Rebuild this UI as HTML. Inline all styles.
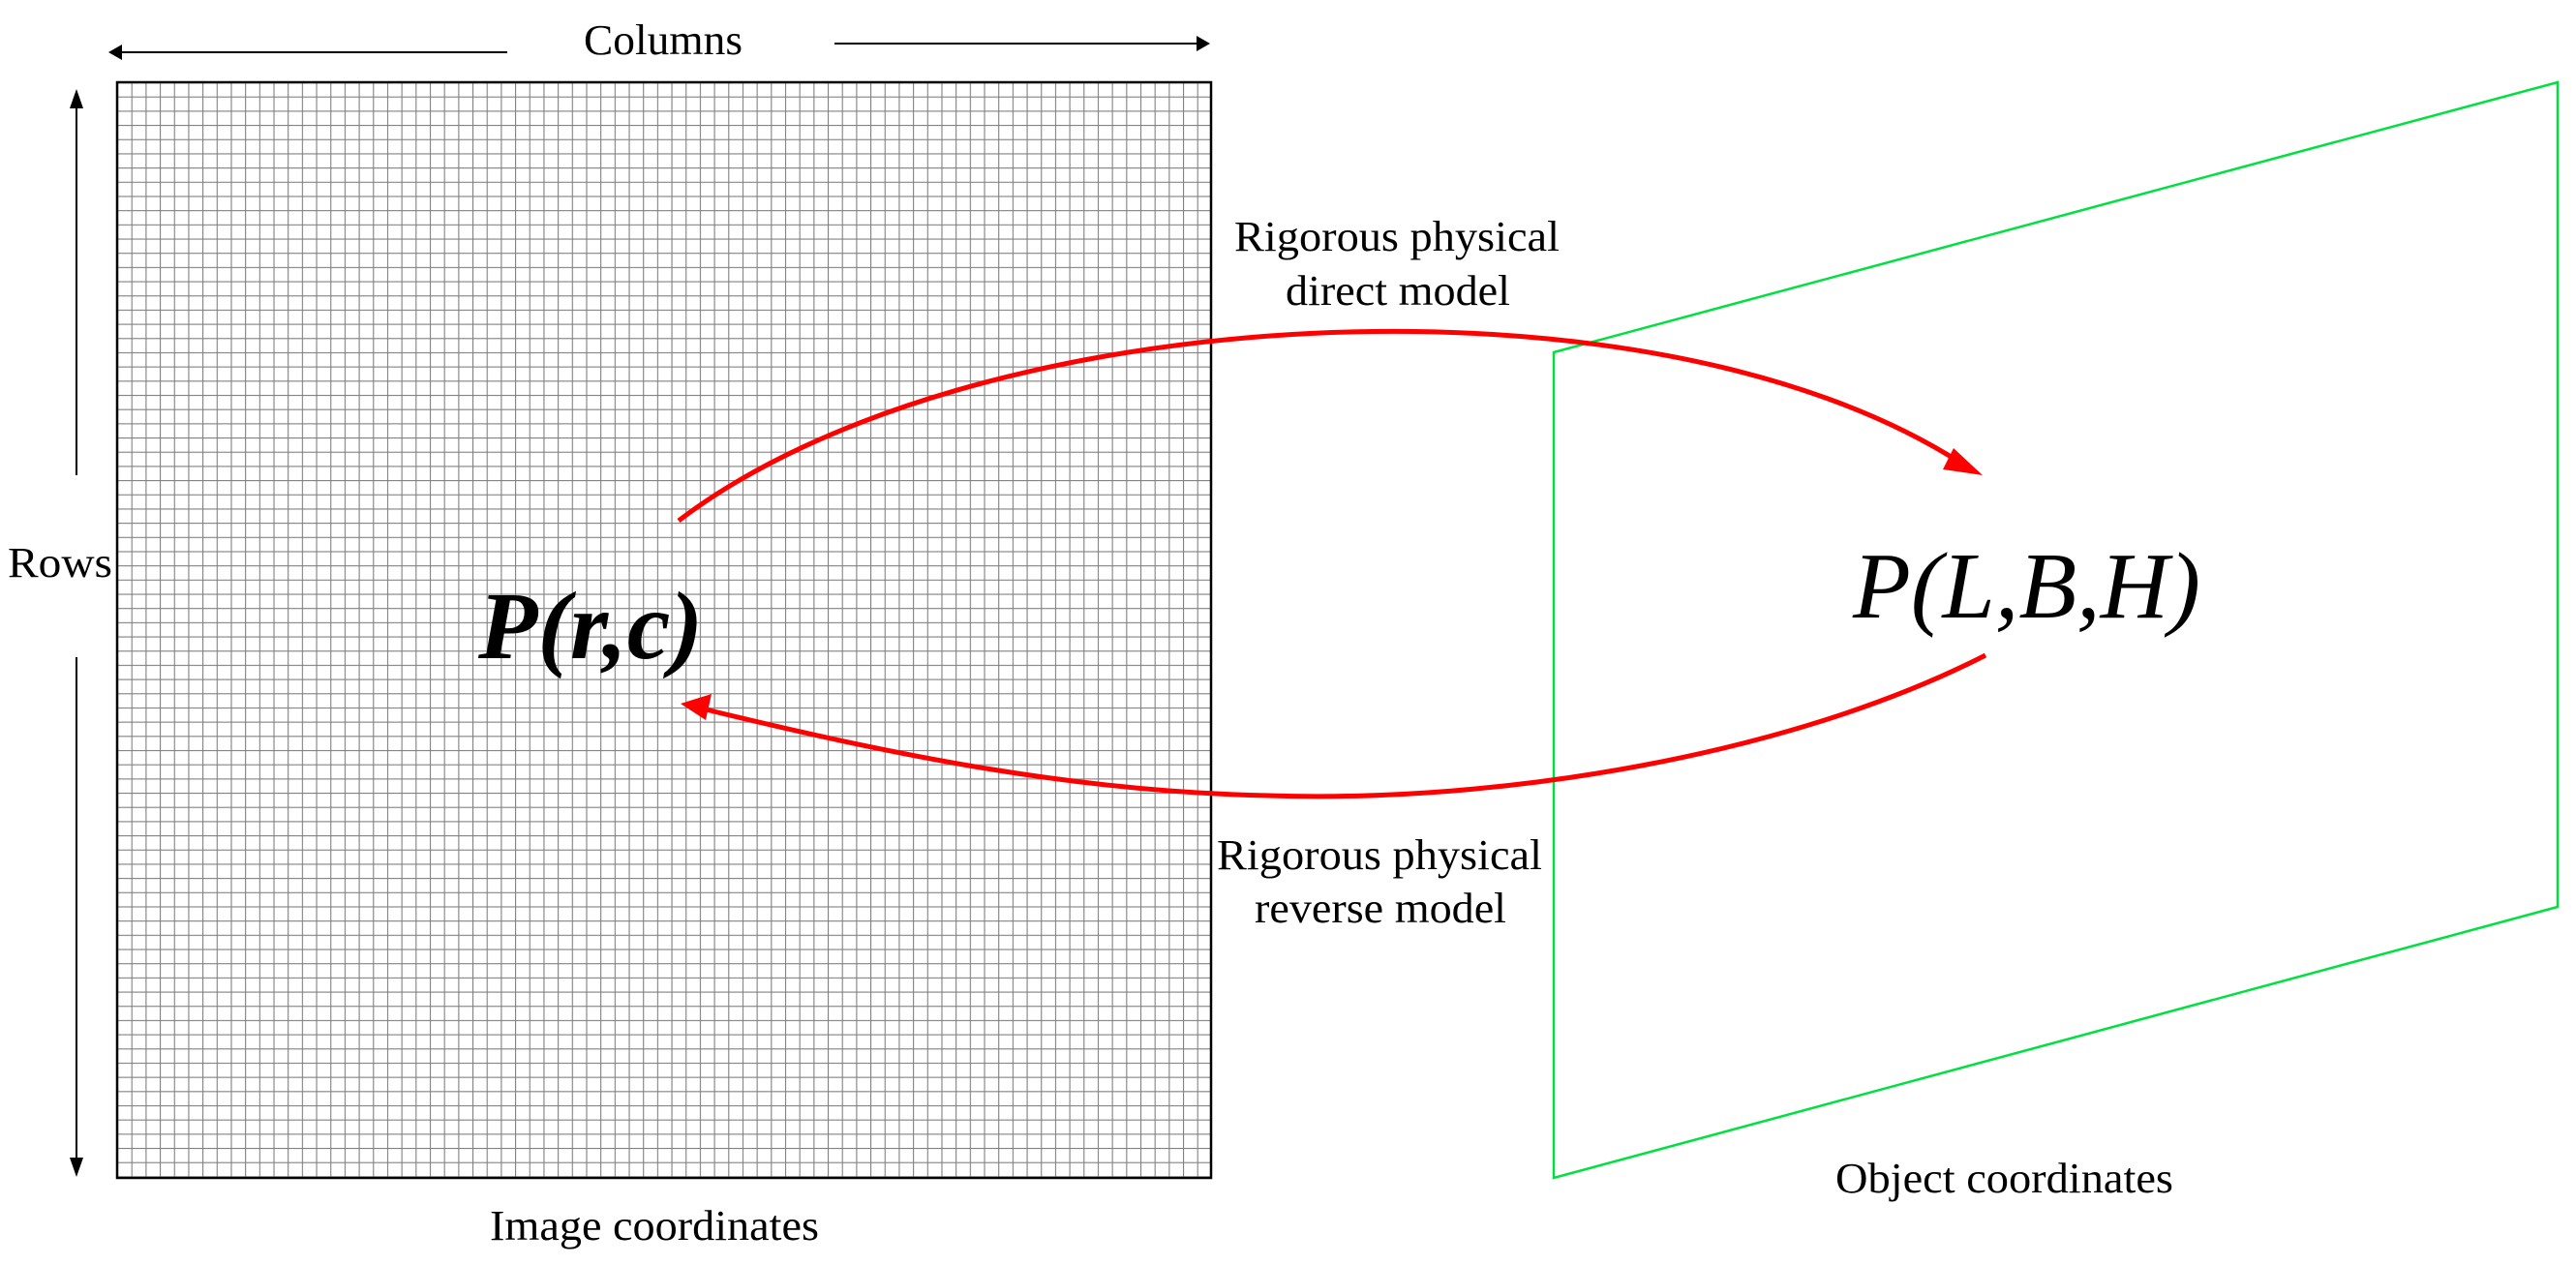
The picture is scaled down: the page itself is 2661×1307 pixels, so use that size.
<!DOCTYPE html>
<html><head><meta charset="utf-8"><style>
html,body{margin:0;padding:0;background:#fff;}
svg{display:block;}
text{font-family:"Liberation Serif","DejaVu Serif",serif;fill:#000;}
</style></head><body>
<svg width="2661" height="1307" viewBox="0 0 2661 1307" xmlns="http://www.w3.org/2000/svg">
<defs>
<pattern id="g" x="121" y="85" width="14.68" height="14.68" patternUnits="userSpaceOnUse">
<path d="M0 0H14.68M0 0V14.68" stroke="#808080" stroke-width="2.2" fill="none"/>
</pattern>
</defs>
<rect x="121" y="85" width="1130" height="1132" fill="url(#g)" stroke="#000" stroke-width="2.5"/>
<!-- columns arrows -->
<line x1="524" y1="54" x2="124" y2="54" stroke="#000" stroke-width="2"/>
<path d="M112 54L126 46L126 62z" fill="#000"/>
<line x1="862" y1="45" x2="1238" y2="45" stroke="#000" stroke-width="2"/>
<path d="M1250 45L1236 37L1236 53z" fill="#000"/>
<text x="603" y="56" font-size="44" textLength="164" lengthAdjust="spacingAndGlyphs">Columns</text>
<!-- rows arrows -->
<line x1="79" y1="104" x2="79" y2="491" stroke="#000" stroke-width="2"/>
<path d="M79 92L72 112L86 112z" fill="#000"/>
<line x1="79" y1="679" x2="79" y2="1200" stroke="#000" stroke-width="2"/>
<path d="M79 1216L72 1196L86 1196z" fill="#000"/>
<text x="8" y="596" font-size="44" textLength="108" lengthAdjust="spacingAndGlyphs">Rows</text>
<text x="494" y="680" font-size="100" font-weight="bold" font-style="italic" textLength="232" lengthAdjust="spacingAndGlyphs">P(r,c)</text>
<text x="506" y="1281" font-size="44" textLength="340" lengthAdjust="spacingAndGlyphs">Image coordinates</text>
<!-- green plane -->
<polygon points="1605,364 2642,85 2642,937 1605,1217" fill="none" stroke="#00e040" stroke-width="2.5"/>
<text x="1896" y="1232" font-size="44" textLength="349" lengthAdjust="spacingAndGlyphs">Object coordinates</text>
<text x="1914" y="638" font-size="98" font-style="italic" textLength="359" lengthAdjust="spacingAndGlyphs">P(L,B,H)</text>
<!-- labels -->
<text x="1275" y="259" font-size="44" textLength="336" lengthAdjust="spacingAndGlyphs">Rigorous physical</text>
<text x="1328" y="315" font-size="44" textLength="232" lengthAdjust="spacingAndGlyphs">direct model</text>
<text x="1257" y="898" font-size="44" textLength="336" lengthAdjust="spacingAndGlyphs">Rigorous physical</text>
<text x="1296" y="953" font-size="44" textLength="260" lengthAdjust="spacingAndGlyphs">reverse model</text>
<!-- red arcs -->
<path d="M701 538 C 1000 310, 1700 270, 2025 478" fill="none" stroke="#f00" stroke-width="5"/>
<path d="M2048 491 L2018 463 L2007 485 z" fill="#f00"/>
<path d="M2051 677 C 1850 780, 1550 830, 1310 822 C 1100 818, 900 775, 725 732" fill="none" stroke="#f00" stroke-width="5"/>
<path d="M703 727 L735 717 L729 744 z" fill="#f00"/>
</svg>
</body></html>
